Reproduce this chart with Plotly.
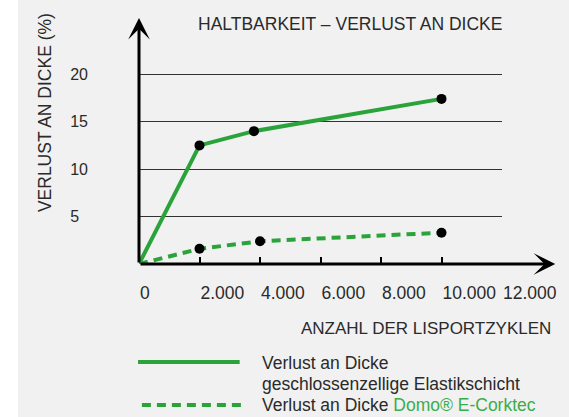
import plotly.graph_objects as go

# ---- data ----
cycles_solid = [0, 2000, 3800, 10000]
loss_solid = [0, 12.5, 14.0, 17.4]
cycles_dashed = [0, 2000, 4000, 10000]
loss_dashed = [0, 1.6, 2.4, 3.3]

x_tickvals = [0, 2000, 4000, 6000, 8000, 10000, 12000]
x_ticktext = ["0", "2.000", "4.000", "6.000", "8.000", "10.000", "12.000"]
y_tickvals = [5, 10, 15, 20]
y_ticktext = ["5\u2007", "10", "15", "20"]

title_text = "HALTBARKEIT – VERLUST AN DICKE"
y_title = "VERLUST AN DICKE (%)"
x_title = "ANZAHL DER LISPORTZYKLEN"
legend_solid = ["Verlust an Dicke", "geschlossenzellige Elastikschicht"]
legend_dashed = "Verlust an Dicke "
legend_brand = "Domo® E-Corktec"

GREEN = "#2aa33b"
GREEN_TXT = "#3aad4a"
TXT = "#2a2a2a"
BG = "#f1f1f1"
FONT = "Liberation Sans"
FS = 17.5

W, H = 569, 417
L, R, T, B = 139, 55, 60, 153
PW, PH = W - L - R, H - T - B


def px(xp):
    return (xp - L) / PW


def py(yp):
    return 1 - (yp - T) / PH


mk = dict(color="black", size=[0, 10, 10, 10], opacity=1, line=dict(width=0))

fig = go.Figure()
fig.add_trace(go.Scatter(
    x=cycles_solid, y=loss_solid, mode="lines+markers",
    line=dict(color=GREEN, width=4), marker=mk,
    cliponaxis=False, showlegend=False, hoverinfo="skip"))
fig.add_trace(go.Scatter(
    x=cycles_dashed, y=loss_dashed, mode="lines+markers",
    line=dict(color=GREEN, width=4, dash="9px,6px"), marker=mk,
    cliponaxis=False, showlegend=False, hoverinfo="skip"))


def txt(text, x, y, anchor="left", angle=0, size=FS):
    return dict(text=text, x=px(x), y=py(y), xref="paper", yref="paper",
                xanchor=anchor, yanchor="middle", showarrow=False, textangle=angle,
                borderpad=0, font=dict(size=size, color=TXT, family=FONT))


def arrow(x0, y0, x1, y1):
    return dict(text="", x=px(x1), y=py(y1), ax=px(x0), ay=py(y0),
                xref="x domain", yref="y domain", axref="x domain", ayref="y domain",
                showarrow=True, arrowhead=3, arrowwidth=3, arrowsize=1.2,
                arrowcolor="black")


annotations = [
    txt(title_text, 515, 24, "right"),
    txt(y_title, 42, 113, "center", -90),
    txt(x_title, 566, 328, "right", size=17),
    txt(legend_solid[0], 265, 363),
    txt(legend_solid[1], 265, 384),
    txt(legend_dashed + f"<span style='color:{GREEN_TXT}'>{legend_brand}</span>", 265, 405),
    arrow(139, 264, 139, 18),   # y axis with arrow
    arrow(139, 264, 569, 264),  # x axis with arrow
]

shapes = [
    dict(type="rect", xref="paper", yref="paper", x0=px(-5), x1=px(14),
         y0=py(H + 5), y1=py(-5), fillcolor="white", line=dict(width=0), layer="below"),
    dict(type="line", xref="paper", yref="paper", x0=px(138), x1=px(243),
         y0=py(362), y1=py(362), line=dict(color=GREEN, width=4)),
    dict(type="line", xref="paper", yref="paper", x0=px(142), x1=px(247),
         y0=py(405), y1=py(405), line=dict(color=GREEN, width=4, dash="9px,6px")),
]

fig.update_layout(
    width=W, height=H,
    margin=dict(l=L, r=R, t=T, b=B, pad=0),
    paper_bgcolor=BG, plot_bgcolor=BG,
    font=dict(family=FONT, color=TXT, size=FS),
    annotations=annotations, shapes=shapes,
    xaxis=dict(range=[0, 12000], tickvals=x_tickvals, ticktext=x_ticktext,
               ticks="inside", ticklen=7, tickwidth=2, tickcolor="black",
               showgrid=False, zeroline=False, showline=False, tickangle=0,
               ticklabelposition="outside right", ticklabelstandoff=16,
               tickfont=dict(size=FS, color=TXT, family=FONT), fixedrange=True),
    yaxis=dict(range=[0, 21.5], tickvals=y_tickvals, ticktext=y_ticktext,
               ticks="", showgrid=True, gridcolor="#333333", gridwidth=1,
               zeroline=False, showline=False, ticklabelstandoff=50,
               tickfont=dict(size=16, color=TXT, family=FONT), fixedrange=True),
)

# remove the default page margin and fit the figure to the browser viewport
post = (
    "document.documentElement.style.margin='0';"
    "document.body.style.margin='0';"
    "var gd=document.getElementById('{plot_id}');"
    "var w=window.innerWidth||%d, h=window.innerHeight||%d;"
    "var kx=w/%d, ky=h/%d;"
    "gd.style.width=w+'px';gd.style.height=h+'px';"
    "Plotly.relayout(gd,{width:w,height:h,'margin.l':%d*kx,'margin.r':%d*kx,"
    "'margin.t':%d*ky,'margin.b':%d*ky});"
) % (W, H, W, H, L, R, T, B)

fig.write_html(
    "out.html",
    config={"displayModeBar": False},
    post_script=post,
)
